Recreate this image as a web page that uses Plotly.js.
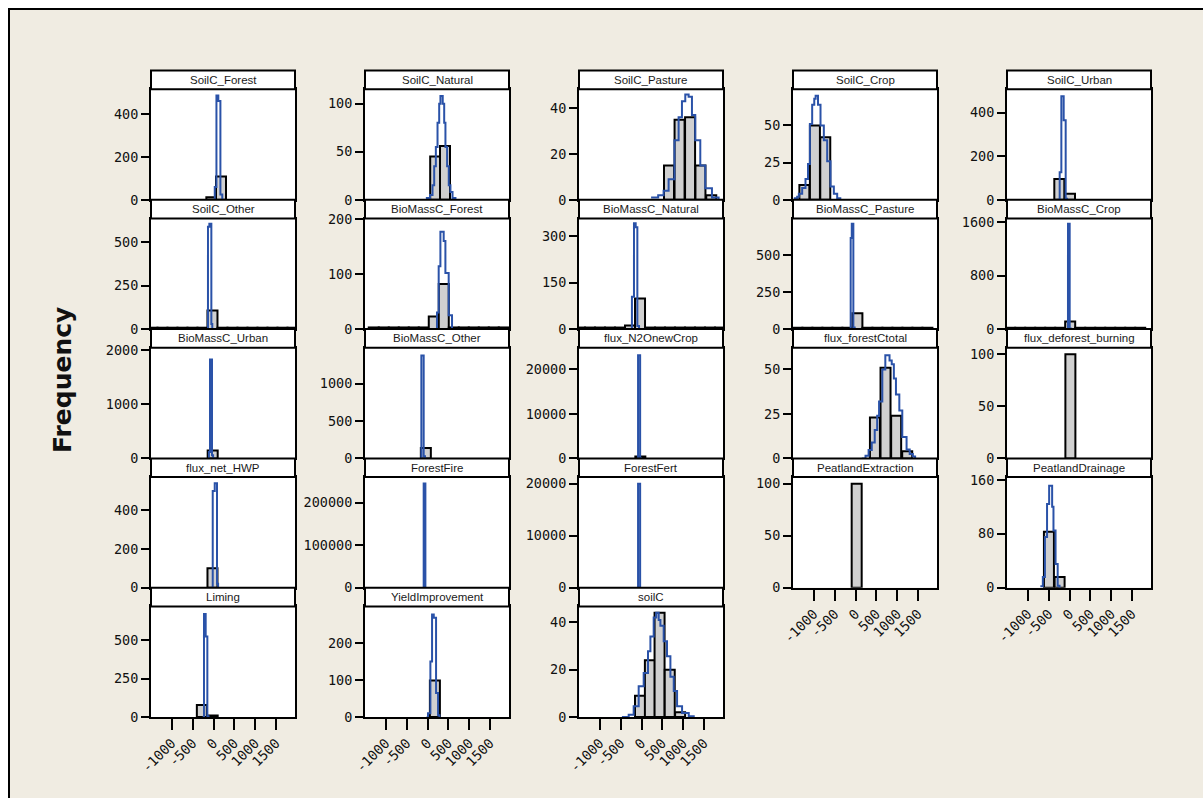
<!DOCTYPE html>
<html><head><meta charset="utf-8">
<script src="https://cdn.plot.ly/plotly-3.0.1.min.js"></script>
<style>
html,body{margin:0;padding:0;background:#fff;overflow:hidden;width:1203px;height:798px;}
#frame{position:absolute;left:8px;top:8px;width:1300px;height:900px;background:#f0ece2;border-left:2px solid #000;border-top:2px solid #000;}
#plot{position:absolute;left:0;top:0;width:1203px;height:798px;}
</style></head><body>
<div id="frame"></div><div id="plot"></div>
<script>
// ---------------- data ----------------
const panelNames = [
  "SoilC_Forest","SoilC_Natural","SoilC_Pasture","SoilC_Crop","SoilC_Urban",
  "SoilC_Other","BioMassC_Forest","BioMassC_Natural","BioMassC_Pasture","BioMassC_Crop",
  "BioMassC_Urban","BioMassC_Other","flux_N2OnewCrop","flux_forestCtotal","flux_deforest_burning",
  "flux_net_HWP","ForestFire","ForestFert","PeatlandExtraction","PeatlandDrainage",
  "Liming","YieldImprovement","soilC"
];
// histogram bin centres and counts
const binCenters = [
  [-52,180],
  [184,420],
  [660,913,1165,1414,1673],
  [-1227,-974,-726],
  [-245,12],
  [-1465,-1225,-985,-745,-505,-265,-25,215,455,695,935,1175,1415,1655,1895],
  [-1290,-1050,-810,-570,-330,-90,150,390,630,870,1110,1350,1590,1830],
  [-1476,-1236,-996,-756,-516,-276,-36,204,444,684,924,1164,1404,1644,1884],
  [-1395,-1155,-915,-675,-435,-195,45,285,525,765,1005,1245,1485,1725],
  [-1424,-1184,-944,-704,-464,-224,16,256,496,736,976,1216,1456,1696],
  [-20],
  [-40],
  [-28],
  [466,720,975,1240],
  [21],
  [-25],
  [],
  [],
  [28],
  [-494,-238],
  [-280,-20],
  [177],
  [-36,201,433,677,926]
];
const binCounts = [
  [12,108],
  [45,56],
  [15,35,36,15,2],
  [10,50,42],
  [96,28],
  [8,8,8,8,8,8,107,8,8,8,8,8,8,8,8],
  [3,3,3,3,3,3,23,82,3,3,3,3,3,3],
  [5,5,5,5,5,12,99,5,5,5,5,5,5,5,5],
  [9,9,9,9,9,9,107,9,9,9,9,9,9,9],
  [20,20,20,20,20,20,114,20,20,20,20,20,20,20],
  [148],
  [138],
  [450],
  [23,51,24,4],
  [100],
  [100],
  [],
  [],
  [100],
  [83,16],
  [78,10],
  [99],
  [9,24,44,20,2]
];
// fine-binned frequency outline (blue step line)
const lineX = [
  [10,30,70,115,165,210],
  [-40,60,120,160,200,240,280,310,365,400,430,470,510,550,600,670],
  [230,400,530,650,790,890,970,1050,1130,1210,1290,1410,1530,1690,1850],
  [-1480,-1400,-1360,-1280,-1200,-1140,-1095,-1040,-990,-957,-900,-840,-760,-680,-600,-520,-440,-365],
  [-290,-236,-196,-140,-92,-60],
  [-160,-133,-100,-52,-30],
  [150,227,268,309,388,429,508,588],
  [-260,-230,-181,-140,-100,-60],
  [-150,-116,-90,-52,-20],
  [-60,-37,4,30],
  [-130,-110,-85,-37,-10],
  [-170,-148,-92,-60],
  [-100,-83,-33,-10],
  [150,240,314,390,461,520,565,643,715,816,869,920,970,1051,1122,1225,1300,1376,1430],
  [],
  [-50,-19,29,84,110],
  [-110,-92,-51,-30],
  [-100,-83,-33,-10],
  [],
  [-700,-640,-590,-539,-489,-417,-385,-335,-284,-240],
  [-260,-229,-188,-148,-120],
  [-20,12,69,109,150,205,253,285],
  [-470,-308,-188,-68,52,155,213,292,352,412,453,532,612,693,773,853,973,1133,1253]
];
const lineY = [
  [0,60,486,460,25,0],
  [2,5,15,35,55,80,100,108,100,80,55,35,15,8,2,0],
  [1,2,4,9,26,36,43,46,45,37,26,15,5,1,0],
  [1,2,4,8,14,24,51,64,68,70,64,50,40,26,9,4,1,0],
  [0,127,476,365,5,0],
  [0,590,608,30,0],
  [0,30,114,177,160,102,25,0],
  [0,105,343,330,10,0],
  [0,612,708,10,0],
  [0,1579,10,0],
  [0,120,1830,60,0],
  [0,1379,30,0],
  [0,23200,20,0],
  [0,1.5,4.7,9,16,24,32,50,58,55,53,45,36,27,12,5,2.5,1,0],
  [],
  [0,500,540,20,0],
  [0,245000,0,0],
  [0,20000,0,0],
  [],
  [2,16,75,124,151,120,85,35,3,0],
  [0,672,526,5,0],
  [0,10,150,277,268,65,5,0],
  [0,1,4.5,13,18.6,27.8,34,42,44,41,38.5,32,25.6,17,11,4.5,1.7,0.3,0]
];
const yTickVals = [
  [0,200,400],[0,50,100],[0,20,40],[0,25,50],[0,200,400],
  [0,250,500],[0,100,200],[0,150,300],[0,250,500],[0,800,1600],
  [0,1000,2000],[0,500,1000],[0,10000,20000],[0,25,50],[0,50,100],
  [0,200,400],[0,100000,200000],[0,10000,20000],[0,50,100],[0,80,160],
  [0,250,500],[0,100,200],[0,20,40]
];
const yMax = [
  515,115,48.3,74.4,508,
  638,201,358,744,1658,
  2048,1481,24860,62.2,106.3,
  572,260000,21270,106.3,164,
  722,299,46.7
];
const xRange = [-1500,1955];
const xTickVals = [-1000,-500,0,500,1000,1500];
const xTickText = ["-1000","-500","0","500","1000","1500"];
const yLabel = "Frequency";

// ---------------- layout geometry (pixels) ----------------
const W = 1203, H = 798;
const colLeft0 = 151, colStep = 214, panelW = 144;
const rowTop0 = 70.5, rowStep = 129.3, stripH = 18.7;
const bottomRowOfCol = [4,4,4,3,3];

const traces = [];
const layout = {
  width: W, height: H,
  margin: {l:0, r:0, t:0, b:0},
  paper_bgcolor: 'rgba(0,0,0,0)',
  plot_bgcolor: '#ffffff',
  showlegend: false,
  hovermode: false,
  shapes: [],
  annotations: []
};
const monoFont = {family: 'DejaVu Sans Mono, monospace', size: 13.5, color: '#111111'};

panelNames.forEach((name, i) => {
  const c = i % 5, r = Math.floor(i / 5);
  const L = colLeft0 + c * colStep, R = L + panelW;
  const sTop = rowTop0 + r * rowStep, pTop = sTop + stripH, pBot = sTop + rowStep;
  const n = i + 1;
  const xa = 'x' + (n === 1 ? '' : n), ya = 'y' + (n === 1 ? '' : n);
  const xk = 'xaxis' + (n === 1 ? '' : n), yk = 'yaxis' + (n === 1 ? '' : n);
  const isBottom = bottomRowOfCol[c] === r;

  traces.push({
    type: 'bar', x: binCenters[i], y: binCounts[i], width: 240,
    marker: {color: '#d0d0d0', line: {color: '#000000', width: 2}},
    xaxis: xa, yaxis: ya, hoverinfo: 'skip'
  });
  if (lineX[i].length) {
    traces.push({
      type: 'scatter', mode: 'lines', x: lineX[i], y: lineY[i],
      line: {shape: 'hv', color: '#2a52a8', width: 2},
      xaxis: xa, yaxis: ya, hoverinfo: 'skip'
    });
  }

  layout[xk] = {
    domain: [L / W, R / W], range: xRange, anchor: ya,
    showline: true, mirror: true, linecolor: '#000', linewidth: 2,
    showgrid: false, zeroline: false, fixedrange: true,
    tickmode: 'array', tickvals: xTickVals, ticktext: xTickText,
    ticks: isBottom ? 'outside' : '', ticklen: 11, tickwidth: 2, tickcolor: '#000',
    showticklabels: isBottom, tickangle: -45, tickfont: monoFont
  };
  layout[yk] = {
    domain: [1 - pBot / H, 1 - pTop / H], range: [0, yMax[i]], anchor: xa,
    showline: true, mirror: true, linecolor: '#000', linewidth: 2,
    showgrid: false, zeroline: false, fixedrange: true,
    tickmode: 'array', tickvals: yTickVals[i], ticktext: yTickVals[i].map(String),
    ticks: 'outside', ticklen: 8, tickwidth: 2, tickcolor: '#000',
    tickfont: monoFont
  };

  layout.shapes.push({
    type: 'rect', xref: 'paper', yref: 'paper',
    x0: L / W, x1: R / W, y0: 1 - pTop / H, y1: 1 - sTop / H,
    fillcolor: '#ffffff', line: {color: '#000', width: 2}, layer: 'above'
  });
  layout.annotations.push({
    xref: 'paper', yref: 'paper', x: (L + R) / 2 / W, y: 1 - (sTop + stripH / 2) / H,
    xanchor: 'center', yanchor: 'middle', showarrow: false,
    text: name, font: {family: 'Liberation Sans, Arial, sans-serif', size: 11.5, color: '#1a1a1a'}
  });
});

layout.annotations.push({
  xref: 'paper', yref: 'paper', x: 62 / W, y: 1 - 380 / H,
  xanchor: 'center', yanchor: 'middle', showarrow: false, textangle: -90,
  text: '<b>' + yLabel + '</b>',
  font: {family: 'DejaVu Sans, sans-serif', size: 25, color: '#111'}
});

Plotly.newPlot('plot', traces, layout, {staticPlot: true, displayModeBar: false});
</script></body></html>
